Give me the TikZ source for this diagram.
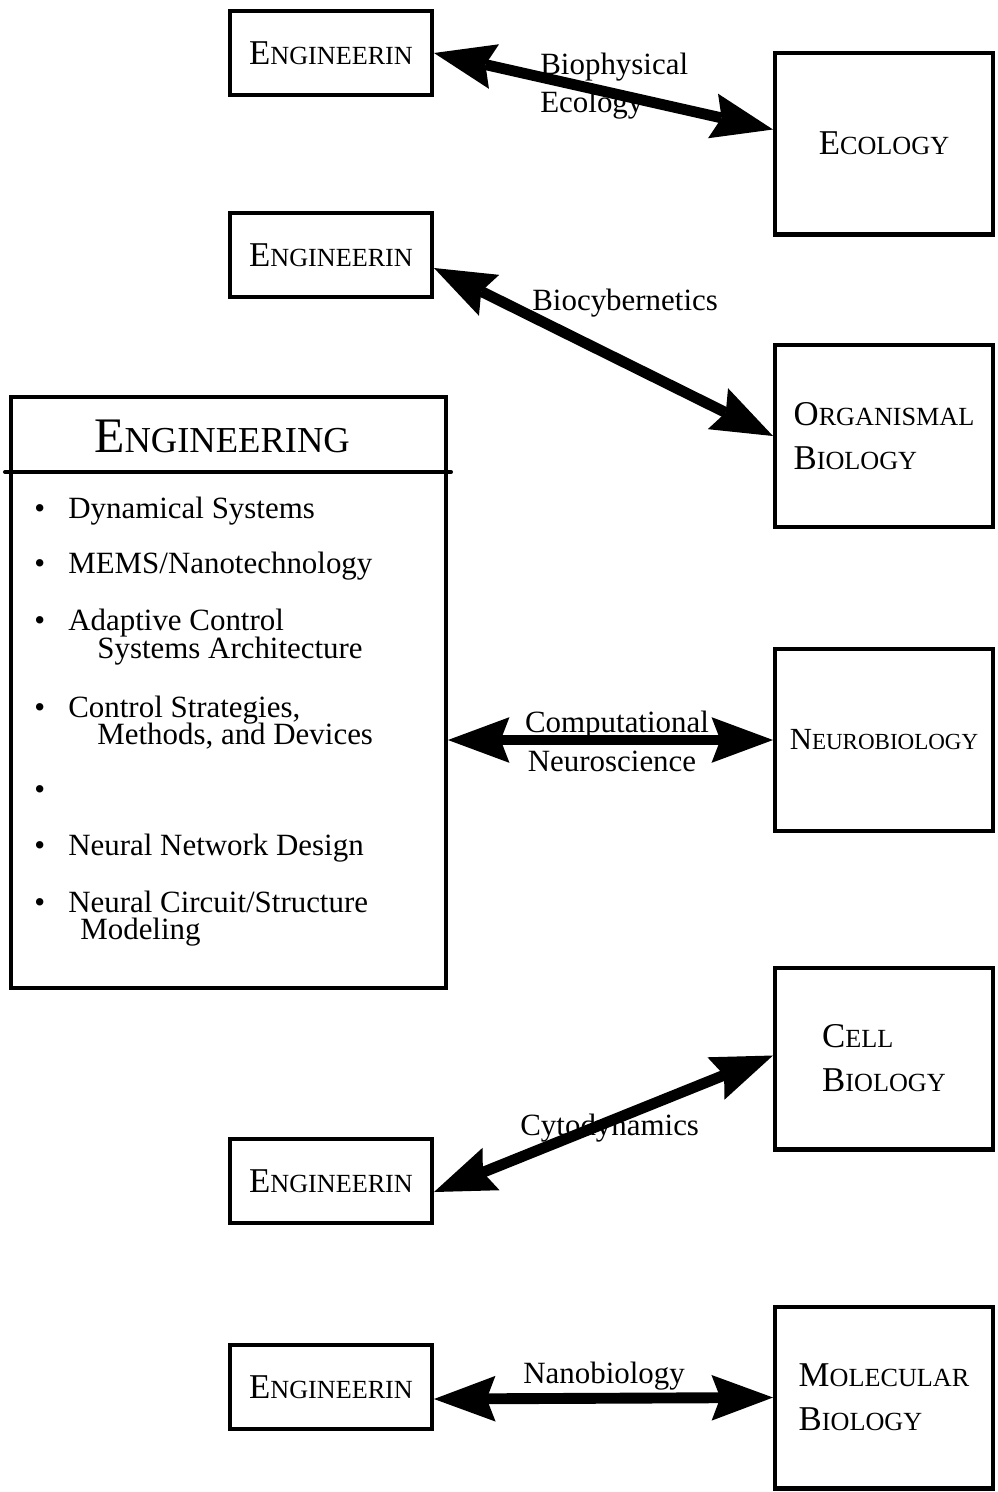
\documentclass[tikz,border=0pt]{standalone}
\usepackage{fontspec}
\setmainfont{Liberation Serif}
\usetikzlibrary{arrows.meta,calc,positioning}

% first letter large, rest in smaller capitals
\newcommand{\scword}[2]{{\fontsize{19.8}{25}\selectfont #1}{\fontsize{14.9}{25}\selectfont #2}}

\tikzset{
    >={Stealth[length=35pt,width=26pt,inset=5pt,line width=0pt]},
    field/.style={draw, line width=2.3pt, inner sep=0pt, align=left, font=\fontsize{19.8}{25}\selectfont},
    engbox/.style={field, minimum width=4.04cm, minimum height=1.68cm},
    biobox/.style={field, minimum width=4.36cm, minimum height=3.64cm},
    link/.style={<->, line width=6.2pt},
    lbl/.style={anchor=base west, inner sep=0pt, font=\fontsize{17.6}{21}\selectfont}
}

\begin{document}
\begin{tikzpicture}[x=0.02cm, y=-0.02cm]
                    \useasboundingbox (0,0) rectangle (998,1492);
                    % Engineering boxes
                    \node[engbox] (eng1) at (331,53) {\scword{E}{NGINEERIN}};
                    \node[engbox] (eng2) at (331,255) {\scword{E}{NGINEERIN}};
                    \node[engbox] (eng3) at (331,1181) {\scword{E}{NGINEERIN}};
                    \node[engbox] (eng4) at (331,1387) {\scword{E}{NGINEERIN}};
                    % Biology boxes
                    \node[biobox] (eco) at (884,143.5) {\scword{E}{COLOGY}};
                    \node[biobox] (org) at (884,436) {\scword{O}{RGANISMAL}\\\scword{B}{IOLOGY}};
                    \node[biobox] (neuro) at (884,740) {{\fontsize{17.5}{25}\selectfont N}{\fontsize{13.1}{25}\selectfont EUROBIOLOGY}};
                    \node[biobox] (cell) at (884,1058.5) {\scword{C}{ELL}\\\scword{B}{IOLOGY}};
                    \node[biobox] (mol) at (884,1397.5) {\scword{M}{OLECULAR}\\\scword{B}{IOLOGY}};
                    % Main box
                    \node[field, minimum width=8.7cm, minimum height=11.82cm] (eng) at (228.5,692.5) {};
                    \draw[line width=2.3pt, line cap=round] (5,472) -- (451,472);
                    \node[anchor=base, inner sep=0pt] (title) at (222,452) {{\fontsize{28.3}{30}\selectfont E}{\fontsize{20.8}{30}\selectfont NGINEERING}};
                    % Items
                    \foreach \n/\y in {1/518,2/573,3/630,4/717,5/799,6/855,7/912}
                        \node[lbl] (dot\n) at (34,\y) {\textbullet};
                    \node[lbl] (dyn) at (68,518) {Dynamical Systems};
                    \node[lbl] (mems) at (68,573) {MEMS/Nanotechnology};
                    \node[lbl] (adapt) at (68,630) {Adaptive Control};
                    \node[lbl] (arch) at (97,658) {Systems Architecture};
                    \node[lbl] (ctrl) at (68,717) {Control Strategies,};
                    \node[lbl] (meth) at (97,744) {Methods, and Devices};
                    \node[lbl] (nnd) at (68,855) {Neural Network Design};
                    \node[lbl] (ncs) at (68,912) {Neural Circuit/Structure};
                    \node[lbl] (model) at (80,939) {Modeling};
                    % Labels
                    \node[lbl] (biophys) at (540,74) {Biophysical};
                    \node[lbl] (ecol) at (540,112) {Ecology};
                    \node[lbl] (biocyb) at (532,310) {Biocybernetics};
                    \node[lbl, anchor=base] (comp) at (617,732) {Computational};
                    \node[lbl, anchor=base] (neurosci) at (612,771) {Neuroscience};
                    \node[lbl] (cyto) at (520,1135) {Cytodynamics};
                    \node[lbl] (nano) at (523,1383) {Nanobiology};
                    % Arrows
                    \draw[link] (eng1.east) -- ($(eco.west)+(0,-14)$);
                    \draw[link] ($(eng2.east)+(0,13)$) -- (org.west);
                    \draw[link] (eng.east |- neuro.west) -- (neuro.west);
                    \draw[link] ($(eng3.east)+(0,11)$) -- ($(cell.west)+(0,-3)$);
                    \draw[link] ($(eng4.east)+(0,12)$) -- (mol.west);
                \end{tikzpicture}
\end{document}
